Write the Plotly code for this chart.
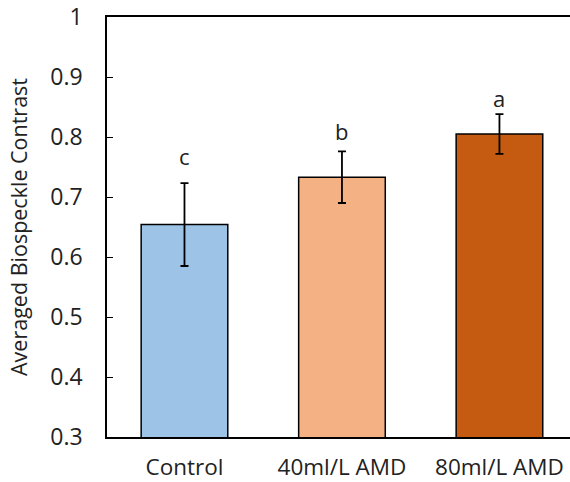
import plotly.graph_objects as go

categories = ["Control", "40ml/L AMD", "80ml/L AMD"]
means = [0.654, 0.733, 0.805]
errors = [0.069, 0.043, 0.033]
letters = ["c", "b", "a"]
letter_y = [0.748, 0.790, 0.845]
colors = ["#9DC3E6", "#F4B183", "#C55A11"]
yticks = [0.3, 0.4, 0.5, 0.6, 0.7, 0.8, 0.9, 1.0]
yticktext = ["0.3", "0.4", "0.5", "0.6", "0.7", "0.8", "0.9", "1"]

font_family = "'Open Sans', sans-serif"

fig = go.Figure()
fig.add_trace(go.Bar(
    x=categories,
    y=means,
    marker=dict(color=colors, line=dict(color="#000000", width=1.5)),
    error_y=dict(type="data", array=errors, visible=True, color="#000000", thickness=1.8, width=4),
    width=0.55,
    showlegend=False,
))

for cat, ly, lt in zip(categories, letter_y, letters):
    fig.add_annotation(x=cat, y=ly, text=lt, showarrow=False, yanchor="bottom", yshift=-5,
                       font=dict(family=font_family, size=22, color="#222222"))

fig.update_layout(
    width=570, height=482,
    margin=dict(l=107, r=0, t=17, b=45),
    plot_bgcolor="white", paper_bgcolor="white",
    font=dict(family=font_family, color="#333333"),
    bargap=0.45,
)
fig.update_xaxes(
    range=[-0.492, 2.448],
    showline=True, linecolor="#000000", linewidth=1.5, mirror=True,
    ticks="", tickfont=dict(size=22.5, color="#222222"),
    ticklabelstandoff=9,
)
fig.update_yaxes(
    range=[0.3, 1.0],
    tickvals=yticks, ticktext=yticktext,
    showline=True, linecolor="#000000", linewidth=1.5,
    ticks="inside", ticklen=6, tickwidth=1.2, tickcolor="#000000",
    showgrid=False, zeroline=False,
    tickfont=dict(size=23, color="#222222"),
    ticklabelstandoff=18,
    title=dict(text="Averaged Biospeckle Contrast", font=dict(size=21.5, color="#222222"), standoff=17),
)

fig.write_html("out.html")
